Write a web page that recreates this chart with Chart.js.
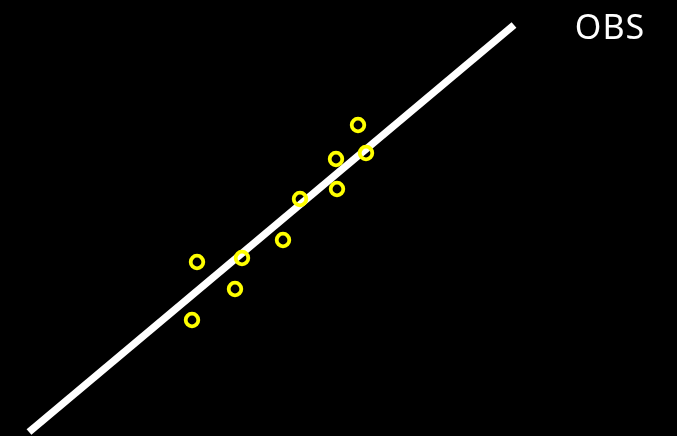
<!DOCTYPE html>
<html>
<head>
<meta charset="utf-8">
<script src="https://cdn.jsdelivr.net/npm/chart.js@4"></script>
<style>
  html, body { margin: 0; padding: 0; background: #000; }
  #wrap { width: 677px; height: 436px; }
</style>
</head>
<body>
<div id="wrap"><canvas id="chart" width="677" height="436"></canvas></div>
<script>
const obsX = [358, 336, 366, 337, 300, 283, 242, 197, 235, 192];
const obsY = [311, 277, 283, 247, 237, 196, 178, 174, 147, 116];

// fitted line end points
const fitX = [29, 514];
const fitY = [4, 411];

const label = 'OBS';

const labelPlugin = {
    id: 'obsLabel',
    afterDraw(chart) {
        const ctx = chart.ctx;
        ctx.save();
        ctx.fillStyle = '#fff';
        ctx.font = '34px "Noto Sans"';
        ctx.textAlign = 'center';
        ctx.textBaseline = 'alphabetic';
        ctx.letterSpacing = '1px';
        ctx.fillText(label, 610, 39);
        ctx.restore();
    }
};

new Chart(document.getElementById('chart'), {
    type: 'scatter',
    data: {
        datasets: [
            {
                type: 'line',
                data: fitX.map((x, i) => ({x: x, y: fitY[i]})),
                borderColor: '#fff',
                borderWidth: 7.5,
                borderCapStyle: 'butt',
                pointRadius: 0,
                fill: false,
                tension: 0,
                order: 2,
            },
            {
                data: obsX.map((x, i) => ({x: x, y: obsY[i]})),
                pointStyle: 'circle',
                pointRadius: 6.3,
                pointBorderWidth: 3.8,
                pointBorderColor: '#ffff00',
                pointBackgroundColor: 'rgba(0,0,0,0)',
                order: 1,
            },
        ]
    },
    options: {
        responsive: false,
        animation: false,
        layout: { padding: 0, autoPadding: false },
        plugins: {
            legend: { display: false },
            tooltip: { enabled: false },
        },
        scales: {
            x: { type: 'linear', display: false, min: 0, max: 677 },
            y: { type: 'linear', display: false, min: 0, max: 436 },
        },
    },
    plugins: [labelPlugin],
});
</script>
</body>
</html>
